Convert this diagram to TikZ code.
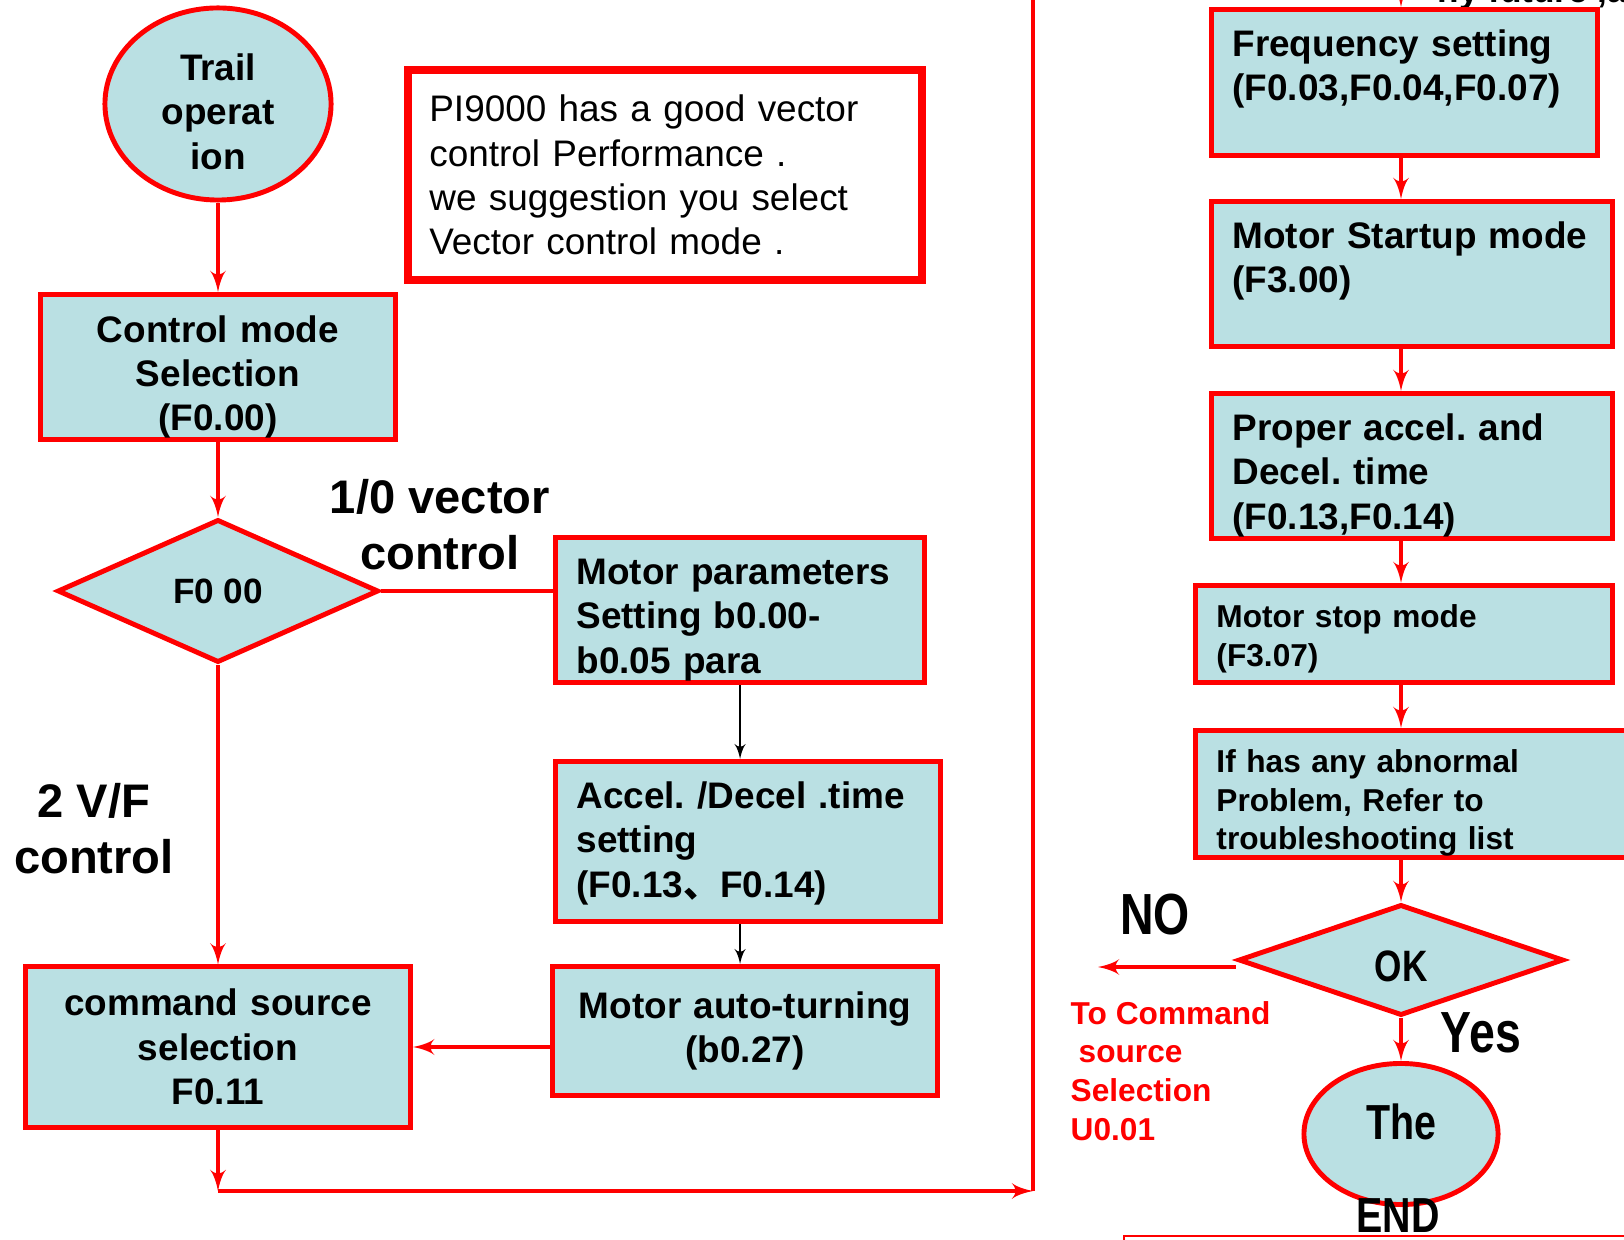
\documentclass[tikz,border=0pt]{standalone}
\usepackage{fontspec}
\setmainfont{Liberation Sans}
\newfontfamily\condsans[FakeStretch=0.8]{Liberation Sans}
\newfontfamily\cjk{Noto Sans CJK SC}
\usetikzlibrary{arrows,positioning,shapes}
\usepackage{xcolor}
\definecolor{boxcyan}{RGB}{186,224,227}
\frenchspacing

\begin{document}
\begin{tikzpicture}[x=0.01cm,y=-0.01cm,
        box/.style={draw=red,line width=1.4pt,fill=boxcyan,rectangle,align=center,inner sep=0pt,font=\bfseries\fontsize{10.5}{12.6}\selectfont},
        topbox/.style={box,anchor=north west,align=left,inner xsep=0.21cm,inner ysep=0.19cm,text height=0.28cm},
        smallbox/.style={topbox,inner ysep=0.17cm,text height=0.25cm,font=\bfseries\fontsize{9}{11}\selectfont},
        oval/.style={ellipse,draw=red,line width=1.4pt,fill=boxcyan,align=center,inner sep=0pt,font=\bfseries\fontsize{10.5}{12.6}\selectfont},
        dmd/.style={diamond,draw=red,line width=1.4pt,fill=boxcyan,inner sep=0pt,font=\bfseries\fontsize{10}{12}\selectfont},
        lbl/.style={inner sep=0pt,align=center,font=\bfseries\fontsize{13.4}{16}\selectfont},
        biglbl/.style={inner sep=0pt,font=\condsans\bfseries\fontsize{16.5}{19}\selectfont},
        redlbl/.style={inner sep=0pt,text=red,align=left,font=\bfseries\fontsize{9}{11}\selectfont},
        rline/.style={draw=red,line width=1.1pt},
        rarrow/.style={rline,-latex'},
        karrow/.style={draw=black,line width=0.5pt,-latex'}]
        \useasboundingbox (0,0) rectangle (1624,1240);
        \clip (0,0) rectangle (1624,1240);

        % left column
        \node[oval,minimum width=2.26cm,minimum height=1.92cm,text width=1.15cm,text height=0.42cm] (trail) at (218,104) {Trail\\operat\\ion};
        \node[box,minimum width=3.54cm,minimum height=1.45cm,text width=3.14cm,text height=0.47cm] (ctrlmode) at (218,367) {Control mode\\Selection\\(F0.00)};
        \node[dmd,minimum width=3.21cm,minimum height=1.43cm] (f000) at (218,591) {F0 00};
        \node[lbl] (veclbl) at (440,525) {1/0 vector\\control};
        \node[lbl] (vflbl) at (94,829) {2 V/F\\control};
        \node[box,minimum width=3.85cm,minimum height=1.60cm,text width=3.45cm] (cmdsrc) at (218,1047) {command source\\selection\\F0.11};

        \node[draw=red,line width=2.3pt,fill=white,rectangle,align=left,inner xsep=0.21cm,inner ysep=0pt,
              text width=4.71cm,minimum height=2.1cm,font=\fontsize{10.5}{12.6}\selectfont] (note) at (665,175)
              {PI9000 has a good vector\\control Performance .\\we suggestion you select\\Vector control mode .};

        % vector branch
        \node[topbox,text width=3.27cm,text depth=0.79cm] (motpar) at (553,535) {Motor parameters\\Setting b0.00-\\b0.05 para};
        \node[topbox,text width=3.43cm,text depth=0.94cm] (accel) at (553,759) {Accel. /Decel .time\\setting\\(F0.13{\cjk 、}F0.14)};
        \node[box,minimum width=3.85cm,minimum height=1.29cm,text width=3.45cm] (autoturn) at (745,1031) {Motor auto-turning\\(b0.27)};

        % right column
        \node[anchor=base west,inner sep=0pt,font=\bfseries\fontsize{10}{12}\selectfont] (cuttxt) at (1437,3) {ny future ,and};
        \node[topbox,text width=3.44cm,text depth=0.80cm] (freq) at (1209,7) {Frequency setting\\(F0.03,F0.04,F0.07)};
        \node[topbox,text width=3.59cm,text depth=0.79cm] (startup) at (1209,199) {Motor Startup mode\\(F3.00)};
        \node[topbox,text width=3.59cm,text depth=0.79cm] (proper) at (1209,391) {Proper accel. and\\Decel. time\\(F0.13,F0.14)};
        \node[smallbox,text width=3.75cm,text depth=0.38cm] (stopmode) at (1193,583) {Motor stop mode\\(F3.07)};
        \node[smallbox,text width=4.29cm,text depth=0.68cm] (abnormal) at (1193,728) {If has any abnormal\\Problem, Refer to\\troubleshooting list};
        \node[dmd,minimum width=3.25cm,minimum height=1.11cm,text height=0.44cm,font=\condsans\bfseries\fontsize{12.5}{15}\selectfont] (okd) at (1401,960) {OK};
        \node[oval,minimum width=1.94cm,minimum height=1.41cm,text depth=0.24cm,font=\condsans\bfseries\fontsize{14}{17}\selectfont] (endn) at (1401,1134) {The};
        \node[biglbl,font=\condsans\bfseries\fontsize{14}{17}\selectfont] (endlbl) at (1398,1216) {END};
        \node[biglbl] (nolbl) at (1155,915) {NO};
        \node[biglbl] (yeslbl) at (1481,1033) {Yes};
        \node[redlbl,anchor=west] (tocmd) at (1070,1071) {To Command\\\hspace*{0.08cm}source\\Selection\\U0.01};

        \coordinate (loopturn) at (218,1191);
        \coordinate (loopcorner) at (1033,1191);
        \coordinate (looptop) at (1033,-10);
        \coordinate (intop) at (1401,-30);
        \coordinate (noend) at (1098,967);

        \path[rarrow] (trail) -- (ctrlmode);
        \path[rarrow] (ctrlmode) -- (f000);
        \path[rline] (f000.east) -- (f000.east -| motpar.west);
        \path[rarrow] (f000) -- (cmdsrc);
        \path[karrow] (motpar.south) -- (motpar.south |- accel.north);
        \path[karrow] (accel.south -| motpar.south) -- (autoturn.north -| motpar.south);
        \path[rarrow] (autoturn.west |- cmdsrc.east) -- (cmdsrc.east);
        \path[rarrow] (cmdsrc) -- (loopturn);
        \path[rarrow] (loopturn) -- (loopcorner);
        \path[rline] (loopcorner) -- (looptop);

        \path[rarrow] (intop) -- (intop |- freq.north);
        \path[rarrow] (freq.south -| intop) -- (startup.north -| intop);
        \path[rarrow] (startup.south -| intop) -- (proper.north -| intop);
        \path[rarrow] (proper.south -| intop) -- (stopmode.north -| intop);
        \path[rarrow] (stopmode.south -| intop) -- (abnormal.north -| intop);
        \path[rarrow] (abnormal.south -| intop) -- (okd.north);
        \path[rarrow] (okd.west |- noend) -- (noend);
        \path[rarrow] (okd) -- (endn);

        \draw[red,line width=0.7pt] (1124,1260) -- (1124,1236) -- (1700,1236);
\end{tikzpicture}
\end{document}
